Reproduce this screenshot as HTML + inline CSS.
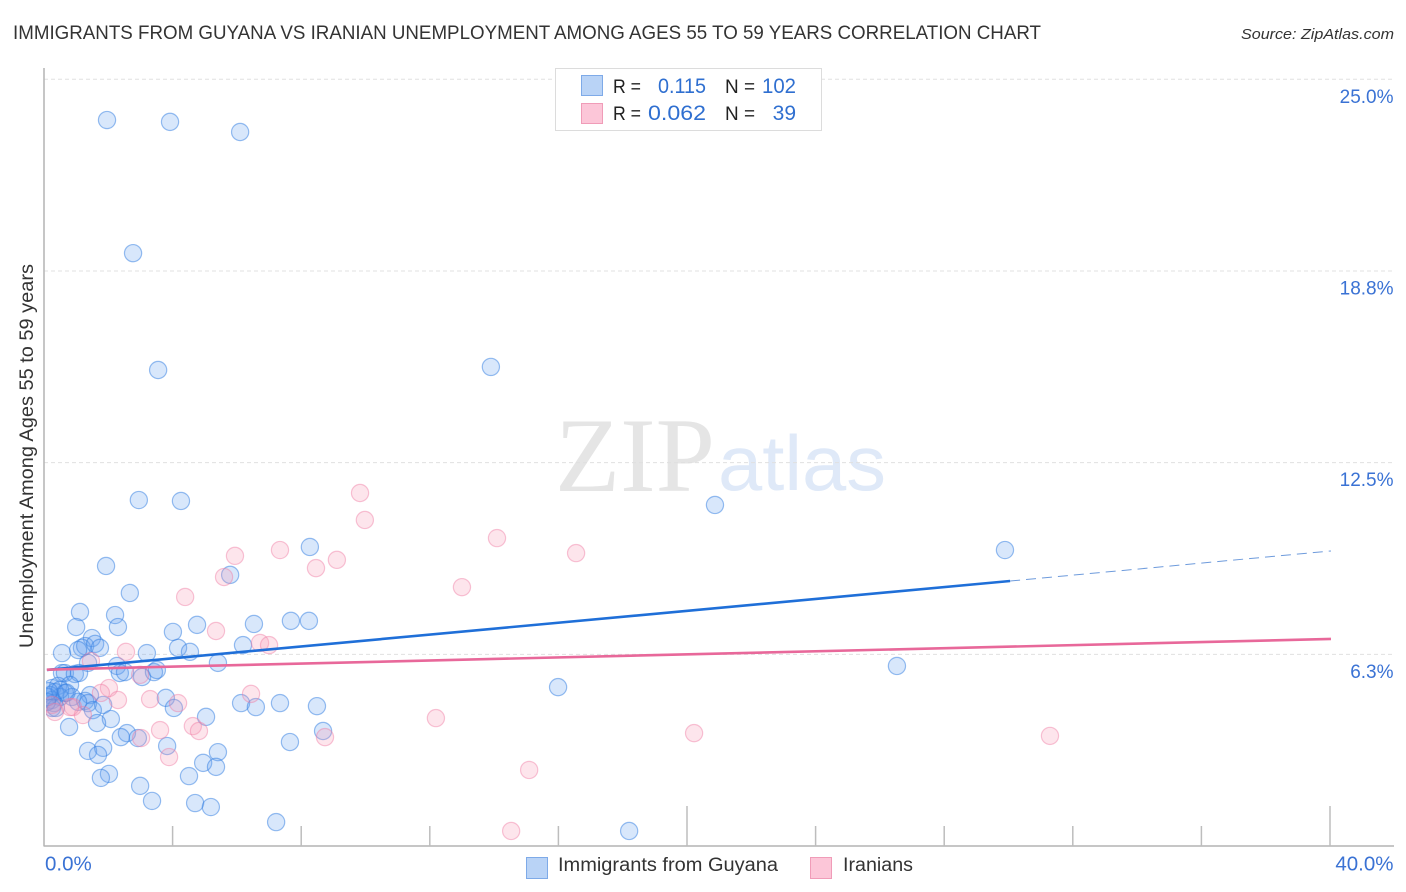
<!DOCTYPE html>
<html>
<head>
<meta charset="utf-8">
<title>Immigrants from Guyana vs Iranian Unemployment Among Ages 55 to 59 Years Correlation Chart</title>
<style>
html,body{margin:0;padding:0;background:#fff;width:1406px;height:892px;overflow:hidden}
svg{display:block}
text{font-family:"Liberation Sans",sans-serif}
</style>
</head>
<body>
<svg id="chart" xmlns="http://www.w3.org/2000/svg" width="1406" height="892" viewBox="0 0 1406 892">
  <defs>
    <clipPath id="plot-clip"><rect x="46" y="60" width="1350" height="786"/></clipPath>
  </defs>
  <rect x="0" y="0" width="1406" height="892" fill="#fff"/>
  <text x="13" y="39" font-size="19.5" fill="#333" textLength="1028" lengthAdjust="spacingAndGlyphs">IMMIGRANTS FROM GUYANA VS IRANIAN UNEMPLOYMENT AMONG AGES 55 TO 59 YEARS CORRELATION CHART</text>
  <text x="1241" y="39" font-size="15" font-style="italic" fill="#333" textLength="153" lengthAdjust="spacingAndGlyphs">Source: ZipAtlas.com</text>
  <g id="watermark">
    <text x="555" y="491" style="font-family:'Liberation Serif',serif" font-size="106" fill="#e5e5e5" textLength="160" lengthAdjust="spacingAndGlyphs">ZIP</text>
    <text x="718" y="490" font-size="78" fill="#dfe9f8" textLength="168" lengthAdjust="spacingAndGlyphs">atlas</text>
  </g>
  <g id="grid"></g>
  <g id="axes"></g>
  <g id="points-blue" clip-path="url(#plot-clip)"></g>
  <g id="points-pink" clip-path="url(#plot-clip)"></g>
  <g id="trends"></g>
  <g id="ylabels"></g>
  <g id="xlabels"></g>
  <text transform="translate(33,456) rotate(-90)" text-anchor="middle" font-size="19" fill="#333" textLength="384" lengthAdjust="spacingAndGlyphs">Unemployment Among Ages 55 to 59 years</text>

  <g>
    <rect x="555.5" y="68.5" width="266" height="62" fill="#fff" stroke="#dcdcdc" stroke-width="1"/>
    <rect x="581.5" y="75.5" width="21" height="20" fill="#b9d3f6" stroke="#7eaae8"/>
    <rect x="581.5" y="103.5" width="21" height="20" fill="#fcc6d8" stroke="#f09cb8"/>
    <text x="613" y="93" font-size="19.5" fill="#222" textLength="28" lengthAdjust="spacingAndGlyphs">R =</text>
    <text x="658" y="93" font-size="21" fill="#2f6fd0" textLength="48" lengthAdjust="spacingAndGlyphs">0.115</text>
    <text x="725" y="93" font-size="19.5" fill="#222" textLength="30" lengthAdjust="spacingAndGlyphs">N =</text>
    <text x="762" y="93" font-size="21" fill="#2f6fd0" textLength="34" lengthAdjust="spacingAndGlyphs">102</text>
    <text x="613" y="120" font-size="19.5" fill="#222" textLength="28" lengthAdjust="spacingAndGlyphs">R =</text>
    <text x="648" y="120" font-size="21" fill="#2f6fd0" textLength="58" lengthAdjust="spacingAndGlyphs">0.062</text>
    <text x="725" y="120" font-size="19.5" fill="#222" textLength="30" lengthAdjust="spacingAndGlyphs">N =</text>
    <text x="796" y="120" font-size="21" fill="#2f6fd0" text-anchor="end">39</text>
  </g>

  <g>
    <rect x="526.5" y="857.5" width="21" height="21" fill="#b9d3f6" stroke="#7eaae8"/>
    <text x="558" y="871" font-size="19" fill="#333" textLength="220" lengthAdjust="spacingAndGlyphs">Immigrants from Guyana</text>
    <rect x="810.5" y="857.5" width="21" height="21" fill="#fcc6d8" stroke="#f09cb8"/>
    <text x="843" y="871" font-size="19" fill="#333" textLength="70" lengthAdjust="spacingAndGlyphs">Iranians</text>
  </g>
</svg>
<script>
const guyanaX = [1.96,3.92,6.10,2.77,3.55,13.90,2.95,4.26,20.87,29.89,8.27,1.93,5.79,2.67,1.12,2.21,1.00,2.30,4.01,4.76,6.53,7.68,8.24,1.49,1.18,1.28,1.59,1.74,0.56,1.06,3.20,4.17,4.54,6.19,5.41,1.37,2.27,2.36,2.52,3.05,3.42,3.51,0.56,0.65,0.96,1.09,26.53,15.99,0.25,0.44,0.81,0.34,0.65,0.50,0.19,0.25,0.31,0.87,1.43,0.25,0.37,1.28,1.37,1.52,1.84,3.79,4.04,6.13,6.59,7.34,8.49,2.08,5.04,1.65,0.78,8.68,2.58,2.39,2.92,7.65,3.83,1.37,1.84,1.68,5.41,4.95,5.35,2.02,1.77,4.51,2.99,3.36,4.70,5.19,7.22,18.20,0.12,0.09,0.50,1.06,0.70,0.15];
const guyanaY = [23.67,23.61,23.28,19.33,15.52,15.62,11.28,11.25,11.12,9.65,9.75,9.13,8.84,8.25,7.63,7.53,7.14,7.14,6.98,7.21,7.24,7.34,7.34,6.78,6.46,6.52,6.59,6.46,6.29,6.39,6.29,6.46,6.33,6.55,5.97,5.97,5.87,5.64,5.67,5.51,5.67,5.74,5.64,5.64,5.61,5.64,5.87,5.18,5.15,5.22,5.25,5.02,4.99,4.86,4.92,4.76,4.66,4.86,4.92,4.50,4.50,4.73,4.66,4.43,4.60,4.83,4.50,4.66,4.53,4.66,4.56,4.14,4.21,4.01,3.88,3.75,3.68,3.55,3.52,3.39,3.26,3.10,3.20,2.97,3.06,2.71,2.58,2.35,2.22,2.28,1.96,1.47,1.40,1.27,0.78,0.49,4.86,4.70,5.09,4.70,5.00,5.05];
const iranianX = [5.35,2.55,6.72,7.00,1.46,2.99,2.02,1.77,2.30,3.30,4.17,6.44,1.21,0.90,0.81,3.61,4.63,4.82,3.02,3.89,8.74,5.94,4.39,7.34,5.60,8.46,9.11,9.83,9.98,14.09,16.55,13.00,12.19,20.22,31.29,15.09,14.53,0.25,0.34];
const iranianY = [7.01,6.33,6.62,6.55,6.03,5.58,5.15,4.99,4.76,4.79,4.66,4.96,4.27,4.53,4.53,3.78,3.91,3.75,3.52,2.90,3.55,9.46,8.12,9.65,8.77,9.06,9.33,11.51,10.63,10.04,9.55,8.44,4.17,3.68,3.59,2.48,0.49,4.60,4.37];
const guyanaTrendX = [0.09,30.05];
const guyanaTrendY = [5.74,8.64];
const guyanaForecastX = [30.05,40.03];
const guyanaForecastY = [8.64,9.62];
const iranianTrendX = [0.09,40.03];
const iranianTrendY = [5.75,6.75];
const yTicks = [6.25,12.5,18.75,25];
const yTickLabels = ["6.3%","12.5%","18.8%","25.0%"];
const xTicks = [0,4,8,12,16,20,24,28,32,36,40];
const xEndTicks = [0,40];
const xEndLabels = ["0.0%","40.0%"];

const NS = 'http://www.w3.org/2000/svg';
function sx(v){ return 44 + v * 32.15; }
function sy(v){ return 846 - v * 30.67; }
function mk(tag, parent, props){
  const el = document.createElementNS(NS, tag);
  for (const k in props) el.setAttribute(k, props[k]);
  parent.appendChild(el);
  return el;
}

const grid = document.getElementById('grid');
const axes = document.getElementById('axes');
yTicks.forEach(function(t){
  const line = mk('line', grid, {x1:44, x2:1394, y1:sy(t), y2:sy(t), stroke:'#e0e0e0', 'stroke-width':1, 'stroke-dasharray':'4 3'});
  
  
});
const yAxis = mk('line', axes, {x1:44, x2:44, y1:68, y2:846.5, stroke:'#b4b4b4', 'stroke-width':1.5});


const xAxis = mk('line', axes, {x1:44, x2:1394, y1:846, y2:846, stroke:'#b4b4b4', 'stroke-width':1.5});


xTicks.forEach(function(t){
  if (t === 0) return;
  const top = (t === 20 || t === 40) ? 806 : 826;
  const tick = mk('line', axes, {x1:sx(t), x2:sx(t), y1:top, y2:846, stroke:'#bdbdbd', 'stroke-width':1.5});
  
  
});

function drawPoints(group, xs, ys, fill, stroke, name){
  xs.forEach(function(x, i){
    const c = mk('circle', group, {cx:sx(x), cy:sy(ys[i]), r:8.6, fill:fill, stroke:stroke, 'stroke-width':1.2});
    
    
  });
}
drawPoints(document.getElementById('points-blue'), guyanaX, guyanaY, 'rgba(100,160,240,0.25)', 'rgba(50,125,225,0.5)', 'guyana-point');
drawPoints(document.getElementById('points-pink'), iranianX, iranianY, 'rgba(248,150,180,0.25)', 'rgba(240,125,165,0.45)', 'iranian-point');

const trends = document.getElementById('trends');
const guyTrend = mk('line', trends, {x1:sx(guyanaTrendX[0]), y1:sy(guyanaTrendY[0]), x2:sx(guyanaTrendX[1]), y2:sy(guyanaTrendY[1]), stroke:'#1f6fd8', 'stroke-width':2.6});


const iranTrend = mk('line', trends, {x1:sx(iranianTrendX[0]), y1:sy(iranianTrendY[0]), x2:sx(iranianTrendX[1]), y2:sy(iranianTrendY[1]), stroke:'#e8689a', 'stroke-width':2.6});


const guyForecast = mk('line', trends, {x1:sx(guyanaForecastX[0]), y1:sy(guyanaForecastY[0]), x2:sx(guyanaForecastX[1]), y2:sy(guyanaForecastY[1]), stroke:'#6e9bdc', 'stroke-width':1, 'stroke-dasharray':'10 6'});



const ylabels = document.getElementById('ylabels');
yTicks.forEach(function(t, i){
  const lbl = mk('text', ylabels, {x:1393.5, y:sy(t) + 23.5, 'text-anchor':'end', 'font-size':19, fill:'#3a72d4'});
  
  
  lbl.textContent = yTickLabels[i];
});
const xlabels = document.getElementById('xlabels');
xEndTicks.forEach(function(t, i){
  const anchor = i === 0 ? 'start' : 'end';
  const px = i === 0 ? sx(t) + 1 : sx(t) + 63.5;
  const lbl = mk('text', xlabels, {x:px, y:870.5, 'text-anchor':anchor, 'font-size':20.5, fill:'#3a72d4'});
  
  
  lbl.textContent = xEndLabels[i];
});
</script>
</body>
</html>
